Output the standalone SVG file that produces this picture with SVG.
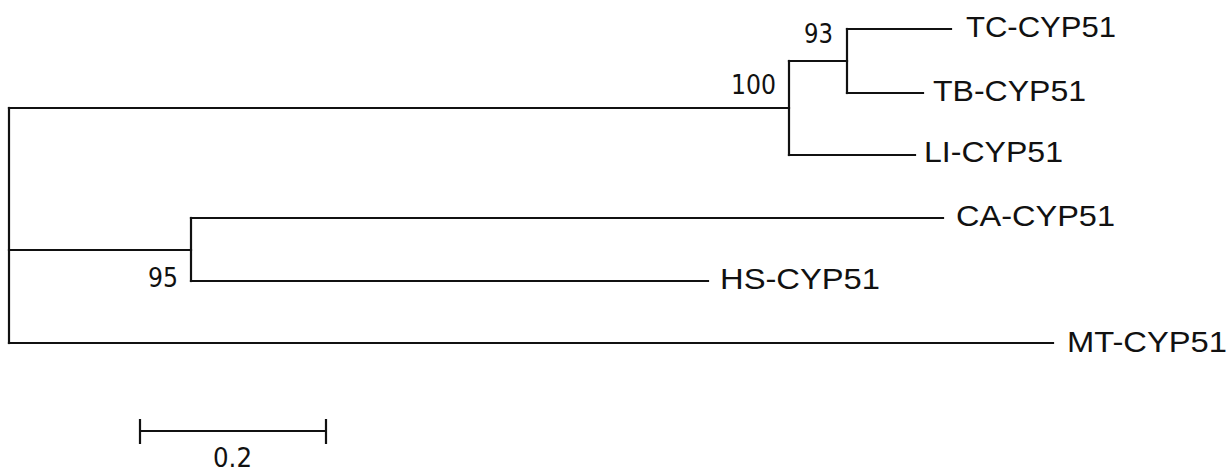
<svg xmlns="http://www.w3.org/2000/svg" width="1229" height="473" viewBox="0 0 1229 473">
<style>
.br{stroke:#111;stroke-width:2.2;fill:none;stroke-linecap:square}
.lbl{font-family:"Liberation Sans",Arial,sans-serif;font-size:30px;fill:#111}
.bs{font-family:"DejaVu Sans","Liberation Sans",sans-serif;font-size:27px;fill:#111}
</style>
<rect width="1229" height="473" fill="#fff"/>
<g id="connectors" class="br">
<path d="M9,108 V343"/>
<path d="M9,108 H789"/>
<path d="M789,61 V155"/>
<path d="M789,61 H847"/>
<path d="M847,29 V93"/>
<path d="M847,29 H951"/>
<path d="M847,93 H923"/>
<path d="M789,155 H915"/>
<path d="M9,250 H191"/>
<path d="M191,218 V281"/>
<path d="M191,218 H943"/>
<path d="M191,281 H708"/>
<path d="M9,343 H1053"/>
</g>
<g id="bootstrap">
<text id="bs100" class="bs" x="776" y="94" text-anchor="end" textLength="45" lengthAdjust="spacingAndGlyphs">100</text>
<text id="bs93" class="bs" x="804" y="43" textLength="29" lengthAdjust="spacingAndGlyphs">93</text>
<text id="bs95" class="bs" x="148" y="287" textLength="30" lengthAdjust="spacingAndGlyphs">95</text>
</g>
<g id="TC"><text class="lbl" x="966" y="37" textLength="150" lengthAdjust="spacingAndGlyphs">TC-CYP51</text></g>
<g id="TB"><text class="lbl" x="933" y="101" textLength="153" lengthAdjust="spacingAndGlyphs">TB-CYP51</text></g>
<g id="LI"><text class="lbl" x="924" y="162" textLength="139" lengthAdjust="spacingAndGlyphs">LI-CYP51</text></g>
<g id="CA"><text class="lbl" x="956" y="226" textLength="159" lengthAdjust="spacingAndGlyphs">CA-CYP51</text></g>
<g id="HS"><text class="lbl" x="720" y="289" textLength="160" lengthAdjust="spacingAndGlyphs">HS-CYP51</text></g>
<g id="MT"><text class="lbl" x="1067" y="352" textLength="160" lengthAdjust="spacingAndGlyphs">MT-CYP51</text></g>
<g id="scalebar">
<path class="br" d="M140,431 H326 M140,420 V443 M326,420 V443"/>
<text class="bs" x="213" y="467" textLength="39" lengthAdjust="spacingAndGlyphs">0.2</text>
</g>
</svg>
